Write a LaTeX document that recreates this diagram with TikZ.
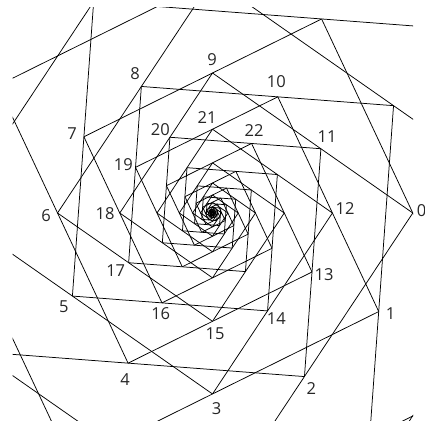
\documentclass[tikz,border=0pt]{standalone}
\usepackage{fontspec}
\setmainfont{Open Sans}
\begin{document}
\begin{tikzpicture}[x=1pt,y=-1pt,
  spiralline/.style={line width=0.75pt,black},
  numlabel/.style={inner sep=0pt,text=black!85,font=\fontsize{16.5}{19}\selectfont}]
\useasboundingbox (0,0) rectangle (425,426);
% points of the spiral: P_k = centre + (A q^k cos 30k, B q^k sin 30k)
\foreach \k in {-24,...,130}{
  \pgfmathsetmacro{\f}{exp(-0.042772*\k)}
  \pgfmathsetmacro{\px}{212.5+200.3*\f*cos(30*\k)}
  \pgfmathsetmacro{\py}{213+205.7*\f*sin(30*\k)}
  \coordinate (p\k) at (\px,\py);
}
\begin{scope}
  \clip (12.5,7) rectangle (413,420);
  \foreach \k in {-14,...,130}{
    \pgfmathtruncatemacro{\j}{\k-9}
    \draw[spiralline] (p\k) -- (p\j);
  }
\end{scope}
\node[numlabel] (l0) at (421.7,210.7) {0};
\node[numlabel] (l1) at (390.7,313.7) {1};
\node[numlabel] (l2) at (311.3,388.7) {2};
\node[numlabel] (l3) at (216.7,408.3) {3};
\node[numlabel] (l4) at (125,379.3) {4};
\node[numlabel] (l5) at (63.8,307) {5};
\node[numlabel] (l6) at (46,215.7) {6};
\node[numlabel] (l7) at (72,133.3) {7};
\node[numlabel] (l8) at (135,73.7) {8};
\node[numlabel] (l9) at (212,59.7) {9};
\node[numlabel] (l10) at (276.3,81.7) {10};
\node[numlabel] (l11) at (327,136.7) {11};
\node[numlabel] (l12) at (345,209) {12};
\node[numlabel] (l13) at (324,274.3) {13};
\node[numlabel] (l14) at (276.3,319) {14};
\node[numlabel] (l15) at (215,333.7) {15};
\node[numlabel] (l16) at (160.7,313.7) {16};
\node[numlabel] (l17) at (115.7,271) {17};
\node[numlabel] (l18) at (105,214) {18};
\node[numlabel] (l19) at (123.3,164.3) {19};
\node[numlabel] (l20) at (160.3,129.7) {20};
\node[numlabel] (l21) at (207,118) {21};
\node[numlabel] (l22) at (254,130.3) {22};
\end{tikzpicture}
\end{document}
